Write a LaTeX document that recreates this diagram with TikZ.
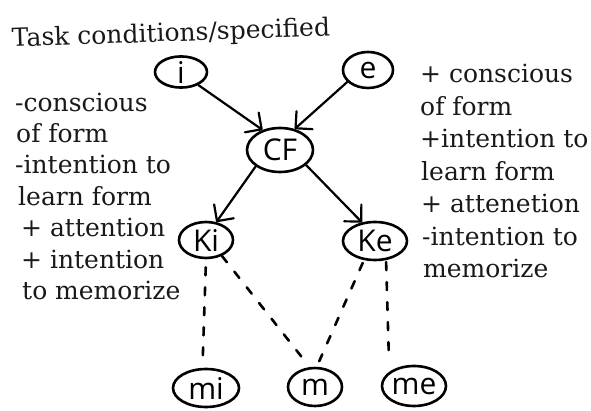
\documentclass[tikz,border=0pt]{standalone}
\usepackage{fontspec}
\setmainfont{DejaVu Serif}
\newfontfamily\handfont{Open Sans}
\usetikzlibrary{shapes.geometric,arrows.meta}

\begin{document}
\begin{tikzpicture}[x=1pt,y=-1pt,
  txt/.style={font=\fontsize{25}{30}\selectfont, inner sep=0pt, anchor=base west, text=black!90},
  blob/.style={draw, ellipse, line width=2.6pt, inner sep=0pt,
    font=\handfont\fontsize{30}{30}\selectfont},
  arr/.style={line width=2.2pt, line cap=round,
    -{Straight Barb[length=12pt,width=24pt,round]}},
  dsh/.style={line width=2.6pt, dash pattern=on 8pt off 12pt, line cap=round}]
\useasboundingbox (0,0) rectangle (591,411);

% title
\node[txt, rotate=2] (title) at (12,47) {Task conditions/specified};

% left column of conditions
\node[txt] (L1) at (15,112) {-conscious};
\node[txt] (L2) at (16,143) {of form};
\node[txt] (L3) at (15,174) {-intention to};
\node[txt] (L4) at (18,206) {learn form};
\node[txt] (L5) at (21,237) {+ attention};
\node[txt] (L6) at (21,269) {+ intention};
\node[txt] (L7) at (22,300) {to memorize};

% right column of conditions
\node[txt] (R1) at (420,83) {+ conscious};
\node[txt] (R2) at (420,116) {of form};
\node[txt] (R3) at (420,148) {+intention to};
\node[txt] (R4) at (421,181) {learn form};
\node[txt] (R5) at (421,213) {+ attenetion};
\node[txt] (R6) at (422,246) {-intention to};
\node[txt] (R7) at (423,278) {memorize};

% nodes
\node[blob, minimum width=52pt, minimum height=30pt] (i)  at (181,72)  {i};
\node[blob, minimum width=50pt, minimum height=36pt] (e)  at (368,70)  {e};
\node[blob, minimum width=66pt, minimum height=44pt] (CF) at (280,150) {CF};
\node[blob, minimum width=54pt, minimum height=36pt] (Ki) at (206,240) {Ki};
\node[blob, minimum width=64pt, minimum height=38pt] (Ke) at (375,241) {Ke};
\node[blob, minimum width=66pt, minimum height=38pt] (mi) at (206,388) {mi};
\node[blob, minimum width=54pt, minimum height=38pt] (m)  at (315,387) {m};
\node[blob, minimum width=64pt, minimum height=40pt] (me) at (414,386) {me};

% arrows
\draw[arr] (i.-37) -- (CF.131);
\draw[arr] (e.-150) -- (CF.55);
\draw[arr] (CF.-146) -- (Ki.60);
\draw[arr] (CF.-30) -- (Ke.125);

% dashed links
\draw[dsh, shorten <=8pt, shorten >=2pt] (Ki.-90) -- (mi.100);
\draw[dsh, shorten >=9pt] (Ki.-45) -- (m.105);
\draw[dsh, shorten <=3pt, shorten >=6pt] (Ke.-120) -- (m.85);
\draw[dsh, shorten <=2pt, shorten >=12pt] (Ke.-60) -- (me.150);
\end{tikzpicture}
\end{document}
